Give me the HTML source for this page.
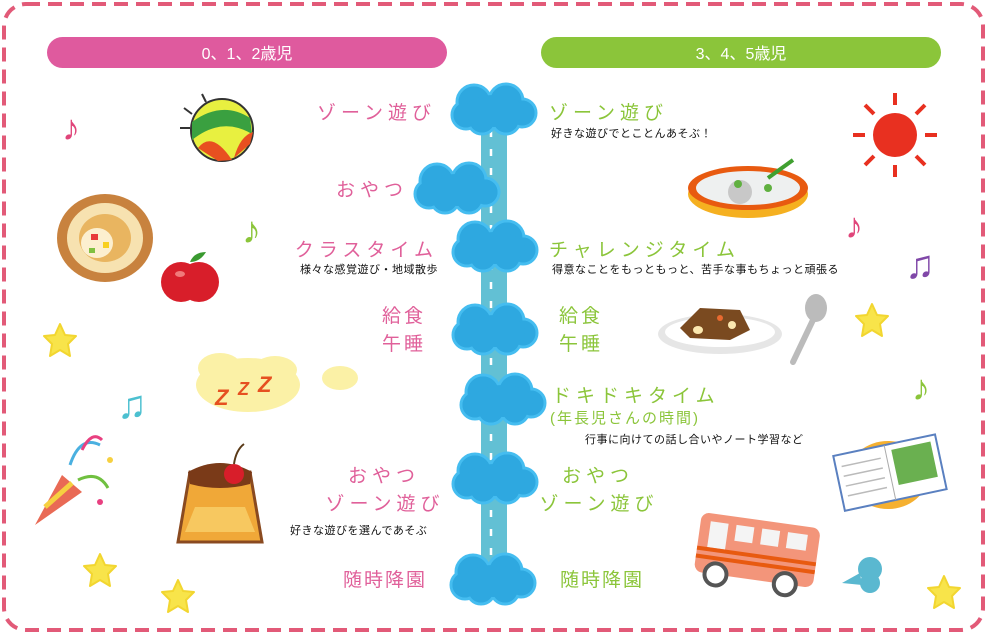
<!DOCTYPE html>
<html><head><meta charset="utf-8"><style>
html,body{margin:0;padding:0;background:#fff;width:988px;height:635px;overflow:hidden}
svg text{font-family:"Liberation Sans","Noto Sans CJK JP",sans-serif}
</style></head><body>
<svg width="988" height="635" viewBox="0 0 988 635" xmlns="http://www.w3.org/2000/svg">
<defs>
<g id="cl">
<g fill="#2ea8e0" stroke="#45bdf0" stroke-width="3">
<circle cx="-20" cy="-8" r="17"/><circle cx="12" cy="-9" r="17"/>
<circle cx="-28" cy="5" r="14"/><circle cx="28" cy="3" r="14"/>
<circle cx="-12" cy="10" r="14"/><circle cx="12" cy="10" r="14"/>
</g>
<g fill="#2ea8e0">
<circle cx="-20" cy="-8" r="15.5"/><circle cx="12" cy="-9" r="15.5"/>
<circle cx="-28" cy="5" r="12.5"/><circle cx="28" cy="3" r="12.5"/>
<circle cx="-12" cy="10" r="12.5"/><circle cx="12" cy="10" r="12.5"/>
<ellipse cx="0" cy="1" rx="30" ry="16"/>
</g>
</g>
<path id="star" d="M0,-16 L5,-5 L16,-4 L8,4 L10,16 L0,10 L-10,16 L-8,4 L-16,-4 L-5,-5Z" fill="#f8e44a" stroke="#f2d630" stroke-width="2" stroke-linejoin="round"/>
</defs>

<rect x="4" y="4" width="979" height="626" rx="22" fill="none" stroke="#e25a78" stroke-width="4" stroke-dasharray="14 8"/>

<rect x="47" y="37" width="400" height="31" rx="15.5" fill="#df5a9e"/>
<text x="247" y="59" text-anchor="middle" fill="#fff" font-size="16">0、1、2歳児</text>
<rect x="541" y="37" width="400" height="31" rx="15.5" fill="#8bc53a"/>
<text x="741" y="59" text-anchor="middle" fill="#fff" font-size="16">3、4、5歳児</text>

<rect x="481" y="125" width="26" height="455" fill="#62c0d4"/>
<line x1="491" y1="130" x2="491" y2="575" stroke="#fff" stroke-width="2.5" stroke-dasharray="7 12"/>

<use href="#cl" x="494" y="110"/>
<use href="#cl" x="457" y="189"/>
<use href="#cl" x="495" y="247"/>
<use href="#cl" x="495" y="330"/>
<use href="#cl" x="503" y="400"/>
<use href="#cl" x="495" y="479"/>
<use href="#cl" x="493" y="580"/>

<g font-size="19" fill="#e0609a">
<text x="436" y="119" text-anchor="end" letter-spacing="5">ゾーン遊び</text>
<text x="408" y="196" text-anchor="end" letter-spacing="5">おやつ</text>
<text x="438" y="256" text-anchor="end" letter-spacing="5">クラスタイム</text>
<text x="404" y="322" text-anchor="middle" letter-spacing="3">給食</text>
<text x="404" y="350" text-anchor="middle" letter-spacing="3">午睡</text>
<text x="384" y="482" text-anchor="middle" letter-spacing="5">おやつ</text>
<text x="385" y="510" text-anchor="middle" letter-spacing="5">ゾーン遊び</text>
<text x="385" y="586" text-anchor="middle" letter-spacing="2">随時降園</text>
</g>
<g font-size="19" fill="#8bc53a">
<text x="549" y="119" letter-spacing="5">ゾーン遊び</text>
<text x="549" y="256" letter-spacing="5">チャレンジタイム</text>
<text x="581" y="322" text-anchor="middle" letter-spacing="3">給食</text>
<text x="581" y="350" text-anchor="middle" letter-spacing="3">午睡</text>
<text x="552" y="402" letter-spacing="5">ドキドキタイム</text>
<text x="550" y="423" font-size="15" letter-spacing="2">(年長児さんの時間)</text>
<text x="598" y="482" text-anchor="middle" letter-spacing="5">おやつ</text>
<text x="599" y="510" text-anchor="middle" letter-spacing="5">ゾーン遊び</text>
<text x="602" y="586" text-anchor="middle" letter-spacing="2">随時降園</text>
</g>
<g font-size="11" fill="#111" letter-spacing="0.5">
<text x="551" y="137">好きな遊びでとことんあそぶ！</text>
<text x="438" y="273" text-anchor="end">様々な感覚遊び・地域散歩</text>
<text x="552" y="273">得意なことをもっともっと、苦手な事もちょっと頑張る</text>
<text x="585" y="443">行事に向けての話し合いやノート学習など</text>
<text x="290" y="534">好きな遊びを選んであそぶ</text>
</g>

<text x="62" y="140" font-size="36" fill="#e0457a">♪</text>
<g transform="translate(222,130)">
<line x1="-38" y1="-22" x2="-30" y2="-16" stroke="#333" stroke-width="2"/>
<line x1="-42" y1="-2" x2="-32" y2="-2" stroke="#333" stroke-width="2"/>
<line x1="-20" y1="-36" x2="-16" y2="-28" stroke="#333" stroke-width="2"/>
<circle r="31" fill="#e8f040" stroke="#333" stroke-width="2"/>
<path d="M-30,-8 Q0,-30 28,-12 L30,4 Q0,-14 -30,10Z" fill="#3aa040"/>
<path d="M-24,18 Q-10,0 10,30 L-4,31Z" fill="#e85020"/>
<path d="M12,28 Q18,6 31,2 L28,14Z" fill="#e85020"/>
</g>
<g transform="translate(105,238)">
<ellipse rx="48" ry="44" fill="#c8823e"/>
<ellipse rx="38" ry="35" fill="#f7e2b0"/>
<ellipse rx="26" ry="24" fill="#e9b560"/>
<ellipse cx="-8" cy="5" rx="16" ry="15" fill="#fcefcf"/>
<rect x="-14" y="-4" width="7" height="6" fill="#e83a3a"/><rect x="-2" y="4" width="6" height="6" fill="#f8d020"/><rect x="-16" y="10" width="6" height="5" fill="#80c040"/>
</g>
<g transform="translate(190,282)">
<circle cx="-9" r="20" fill="#d81e2a"/><circle cx="9" r="20" fill="#d81e2a"/>
<ellipse cx="-10" cy="-8" rx="5" ry="3" fill="#f07a7a"/>
<path d="M0,-20 Q4,-30 16,-30 Q10,-20 0,-20" fill="#3a9a30"/>
</g>
<text x="242" y="243" font-size="38" fill="#8bc53a">♪</text>
<use href="#star" x="60" y="340"/>
<text x="117" y="418" font-size="40" fill="#4cc0d0">♫</text>
<g fill="#fbf1a6">
<ellipse cx="248" cy="385" rx="52" ry="27"/><ellipse cx="220" cy="368" rx="22" ry="15"/><ellipse cx="275" cy="370" rx="22" ry="14"/>
<ellipse cx="340" cy="378" rx="18" ry="12"/>
</g>
<text x="215" y="405" font-size="22" fill="#e65020" font-weight="bold" font-style="italic">Z</text>
<text x="238" y="395" font-size="18" fill="#e65020" font-weight="bold" font-style="italic">Z</text>
<text x="258" y="392" font-size="22" fill="#e65020" font-weight="bold" font-style="italic">Z</text>
<g transform="translate(60,480)">
<path d="M-25,45 L2,-5 L22,12Z" fill="#e96a55"/>
<path d="M-15,27 L12,3" stroke="#f6d040" stroke-width="5"/>
<path d="M10,-15 q10,-30 30,-20" stroke="#4ab0e0" stroke-width="3" fill="none"/>
<path d="M18,0 q20,-10 30,8" stroke="#70c040" stroke-width="3" fill="none"/>
<path d="M22,-30 q10,-20 20,-10" stroke="#e84080" stroke-width="3" fill="none"/>
<circle cx="50" cy="-20" r="3" fill="#f6d040"/><circle cx="40" cy="22" r="3" fill="#e84080"/>
</g>
<g transform="translate(220,502)">
<path d="M-30,-30 L30,-30 L42,40 L-42,40Z" fill="#f0a838" stroke="#8a4a20" stroke-width="3"/>
<path d="M-32,-30 Q0,-48 32,-30 L30,-18 Q0,-10 -30,-18Z" fill="#7a3a18"/>
<path d="M-25,5 L25,5 L35,30 L-35,30Z" fill="#f7c860"/>
<circle cx="14" cy="-28" r="10" fill="#d81e2a"/>
<path d="M14,-38 Q16,-52 24,-58" stroke="#5a3a18" stroke-width="2" fill="none"/>
</g>
<use href="#star" x="100" y="570"/>
<use href="#star" x="178" y="596"/>

<g transform="translate(895,135)" fill="#e83020">
<circle r="22"/>
<g stroke="#e83020" stroke-width="4">
<line x1="0" y1="-30" x2="0" y2="-42"/><line x1="0" y1="30" x2="0" y2="42"/>
<line x1="-30" y1="0" x2="-42" y2="0"/><line x1="30" y1="0" x2="42" y2="0"/>
<line x1="21" y1="21" x2="30" y2="30"/><line x1="-21" y1="-21" x2="-30" y2="-30"/>
<line x1="21" y1="-21" x2="30" y2="-30"/><line x1="-21" y1="21" x2="-30" y2="30"/>
</g></g>
<g transform="translate(748,188)">
<ellipse cx="0" cy="6" rx="60" ry="24" fill="#f5b020"/>
<ellipse rx="60" ry="22" fill="#e85a10"/>
<ellipse rx="52" ry="17" fill="#eef0f0"/>
<circle cx="-8" cy="4" r="12" fill="#c8c8c8"/>
<path d="M20,-10 L45,-28" stroke="#40a030" stroke-width="4"/>
<circle cx="-10" cy="-4" r="4" fill="#60b040"/><circle cx="20" cy="0" r="4" fill="#60b040"/>
</g>
<text x="845" y="238" font-size="36" fill="#e0457a">♪</text>
<text x="905" y="278" font-size="40" fill="#8048a8">♫</text>
<g transform="translate(720,330)">
<ellipse cx="0" cy="4" rx="62" ry="20" fill="#e6e6e6"/>
<ellipse cx="0" cy="2" rx="55" ry="15" fill="#fff"/>
<path d="M-40,-2 L-20,-22 L20,-20 L30,0 L10,10 L-30,8Z" fill="#7a4a20"/>
<ellipse cx="-22" cy="0" rx="5" ry="4" fill="#fbe8b0"/><ellipse cx="12" cy="-5" rx="4" ry="4" fill="#fbe8b0"/>
<circle cx="0" cy="-12" r="3" fill="#e86a30"/>
</g>
<g transform="translate(808,320)">
<ellipse cx="8" cy="-12" rx="11" ry="14" fill="#bbb"/>
<path d="M5,0 L-15,42" stroke="#bbb" stroke-width="6" stroke-linecap="round"/>
</g>
<use href="#star" x="872" y="320"/>
<text x="912" y="400" font-size="36" fill="#8bc53a">♪</text>
<g transform="translate(888,473)">
<ellipse cx="0" cy="2" rx="40" ry="34" fill="#f5b030"/>
<g transform="rotate(-12)">
<rect x="-50" y="-28" width="104" height="56" fill="#fff" stroke="#5a80c0" stroke-width="2"/>
<line x1="2" y1="-28" x2="2" y2="28" stroke="#aaa" stroke-width="1"/>
<rect x="8" y="-22" width="40" height="36" fill="#6ab050"/>
<g stroke="#bbb" stroke-width="1.5"><line x1="-44" y1="-16" x2="-4" y2="-16"/><line x1="-44" y1="-6" x2="-4" y2="-6"/><line x1="-44" y1="4" x2="-4" y2="4"/><line x1="-44" y1="14" x2="-4" y2="14"/></g>
</g>
</g>
<g transform="translate(757,552) rotate(8)">
<rect x="-60" y="-32" width="120" height="60" rx="8" fill="#f3957a"/>
<rect x="-50" y="-24" width="18" height="26" fill="#f4f4f4"/>
<rect x="-24" y="-24" width="18" height="16" fill="#f4f4f4"/>
<rect x="2" y="-24" width="18" height="16" fill="#f4f4f4"/>
<rect x="28" y="-24" width="20" height="16" fill="#f4f4f4"/>
<rect x="-60" y="2" width="120" height="4" fill="#e85a10"/>
<rect x="-60" y="10" width="120" height="4" fill="#e85a10"/>
<circle cx="-38" cy="28" r="11" fill="#fff" stroke="#555" stroke-width="4"/>
<circle cx="32" cy="28" r="11" fill="#fff" stroke="#555" stroke-width="4"/>
</g>
<g transform="translate(862,575)" fill="#5ab8d0">
<circle cx="8" cy="-6" r="12"/><circle cx="8" cy="8" r="10"/>
<path d="M-2,-2 L-20,8 L0,10Z"/>
</g>
<use href="#star" x="944" y="592"/>
</svg>
</body></html>
